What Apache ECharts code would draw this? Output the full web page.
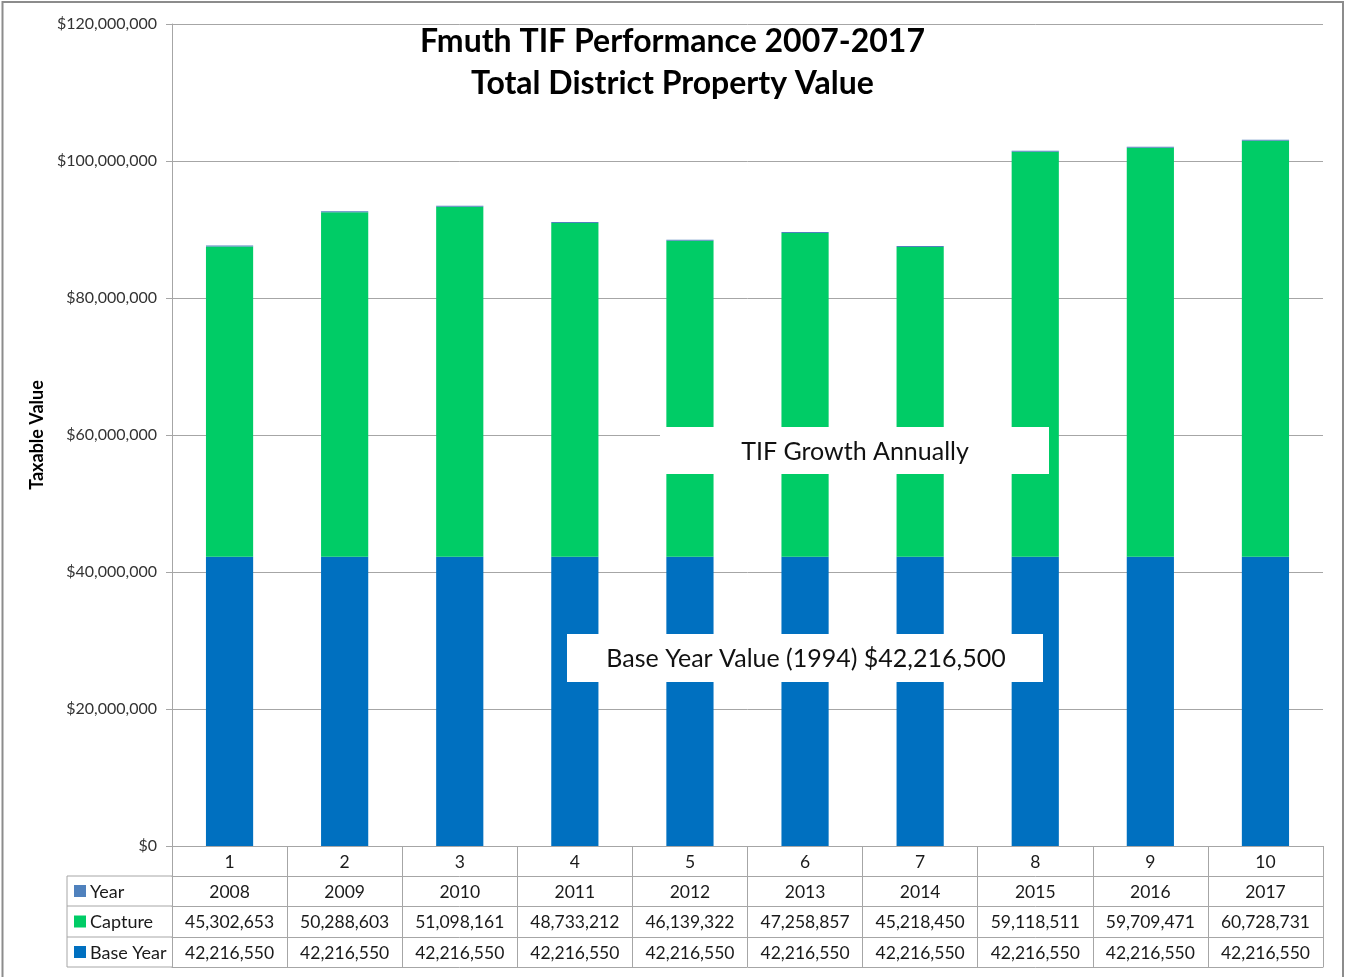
<!DOCTYPE html>
<html>
<head>
<meta charset="utf-8">
<script src="https://cdn.jsdelivr.net/npm/echarts@6/dist/echarts.min.js"></script>
<style>
  html, body { margin: 0; padding: 0; background: #fff; }
  #chart { width: 1345px; height: 977px; }
</style>
</head>
<body>
<div id="chart"></div>
<script>
const categories = ['1', '2', '3', '4', '5', '6', '7', '8', '9', '10'];
const years = [2008, 2009, 2010, 2011, 2012, 2013, 2014, 2015, 2016, 2017];
const capture = [45302653, 50288603, 51098161, 48733212, 46139322, 47258857, 45218450, 59118511, 59709471, 60728731];
const baseYear = [42216550, 42216550, 42216550, 42216550, 42216550, 42216550, 42216550, 42216550, 42216550, 42216550];
const yTicks = { min: 0, max: 120000000, step: 20000000 };

const FONT = 'Lato';
const GRID_LINE = '#a6a6a6';
const colors = { year: '#4F81BD', capture: '#00CC66', base: '#0070C0' };

// layout
const gridLeft = 172, gridRight = 1323, gridTop = 24, gridBottom = 846;
const rowOffsets = [30, 60, 91, 121];   // table row lines below the x axis
const headerLeft = 67;

const fmt = v => v.toLocaleString('en-US');

const chart = echarts.init(document.getElementById('chart'));

// extra x axes used as the rows of the data table
const tableRows = [years.map(String), capture.map(fmt), baseYear.map(fmt), null];
const tableAxes = rowOffsets.map((off, i) => ({
  type: 'category',
  gridIndex: 0,
  position: 'bottom',
  offset: off,
  data: tableRows[i] || categories.map(() => ''),
  axisLine: { show: true, lineStyle: { color: GRID_LINE, width: 1 } },
  axisTick: { show: false },
  axisLabel: {
    show: !!tableRows[i],
    interval: 0,
    margin: 16,
    verticalAlign: 'middle',
    fontFamily: FONT,
    fontSize: 17.5,
    color: '#1a1a1a'
  }
}));

// header column of the table (series names with colour keys)
const headerNames = [['Year', colors.year], ['Capture', colors.capture], ['Base Year', colors.base]];
const headerGraphics = [];
headerGraphics.push({
  type: 'line',
  shape: { x1: headerLeft, y1: gridBottom + rowOffsets[0], x2: headerLeft, y2: gridBottom + rowOffsets[3] },
  style: { stroke: GRID_LINE, lineWidth: 1 }
});
rowOffsets.forEach(off => {
  headerGraphics.push({
    type: 'line',
    shape: { x1: headerLeft, y1: gridBottom + off, x2: gridLeft, y2: gridBottom + off },
    style: { stroke: GRID_LINE, lineWidth: 1 }
  });
});
headerNames.forEach((h, i) => {
  const cy = gridBottom + (rowOffsets[i] + rowOffsets[i + 1]) / 2;
  headerGraphics.push({
    type: 'rect',
    shape: { x: 74, y: cy - 6, width: 12, height: 12 },
    style: { fill: h[1] }
  });
  headerGraphics.push({
    type: 'text',
    x: 90, y: cy + 1,
    style: { text: h[0], fontFamily: FONT, fontSize: 18, fill: '#1a1a1a', verticalAlign: 'middle' }
  });
});

// white callout boxes on top of the bars
const callouts = [
  { x: 660, y: 427, w: 389, h: 47, tx: 855, text: 'TIF Growth Annually' },
  { x: 567, y: 634, w: 476, h: 48, tx: 806, text: 'Base Year Value (1994) $42,216,500' }
];
const calloutGraphics = [];
callouts.forEach(c => {
  calloutGraphics.push({
    type: 'rect', z: 100,
    shape: { x: c.x, y: c.y, width: c.w, height: c.h },
    style: { fill: '#fff' }
  });
  calloutGraphics.push({
    type: 'text', z: 101,
    x: c.tx, y: c.y + c.h / 2 + 1,
    style: { text: c.text, fontFamily: FONT, fontSize: 25, fill: '#111', align: 'center', verticalAlign: 'middle' }
  });
});

const option = {
  animation: false,
  backgroundColor: '#fff',
  textStyle: { fontFamily: FONT },
  title: {
    text: 'Fmuth TIF Performance 2007-2017\nTotal District Property Value',
    left: 'center',
    top: 16,
    textStyle: { fontFamily: FONT, fontSize: 32, fontWeight: 'bold', color: '#000', lineHeight: 42 }
  },
  grid: {
    left: gridLeft,
    right: 1345 - gridRight,
    top: gridTop,
    bottom: 977 - gridBottom,
    containLabel: false
  },
  xAxis: [{
    type: 'category',
    data: categories,
    axisLine: { show: true, lineStyle: { color: GRID_LINE, width: 1 } },
    axisTick: { show: true, interval: 0, length: rowOffsets[3], lineStyle: { color: GRID_LINE, width: 1 } },
    axisLabel: { interval: 0, margin: 16, verticalAlign: 'middle', fontFamily: FONT, fontSize: 17.5, color: '#1a1a1a' }
  }].concat(tableAxes),
  yAxis: {
    type: 'value',
    min: yTicks.min,
    max: yTicks.max,
    interval: yTicks.step,
    name: 'Taxable Value',
    nameLocation: 'middle',
    nameRotate: 90,
    nameGap: 122,
    nameTextStyle: { fontFamily: FONT, fontSize: 18, fontWeight: 'bold', color: '#000' },
    axisLine: { show: true, lineStyle: { color: GRID_LINE, width: 1 } },
    axisTick: { show: true, length: 6, lineStyle: { color: GRID_LINE } },
    axisLabel: {
      margin: 15,
      fontFamily: FONT,
      fontSize: 16,
      color: '#333',
      formatter: v => '$' + fmt(v)
    },
    splitLine: { lineStyle: { color: GRID_LINE, width: 1 } }
  },
  series: [
    {
      name: 'Base Year', type: 'bar', stack: 'total', barWidth: '41%',
      data: baseYear, itemStyle: { color: colors.base }
    },
    {
      name: 'Capture', type: 'bar', stack: 'total', barWidth: '41%',
      data: capture, itemStyle: { color: colors.capture }
    },
    {
      name: 'Year', type: 'bar', stack: 'total', barWidth: '41%', barMinHeight: 1,
      data: years, itemStyle: { color: colors.year }
    }
  ],
  graphic: [
    {
      type: 'rect',
      shape: { x: 2.5, y: 2, width: 1340.5, height: 1000 },
      style: { fill: 'none', stroke: '#8c8c8c', lineWidth: 2 }
    }
  ].concat(headerGraphics, calloutGraphics)
};

chart.setOption(option);
</script>
</body>
</html>
